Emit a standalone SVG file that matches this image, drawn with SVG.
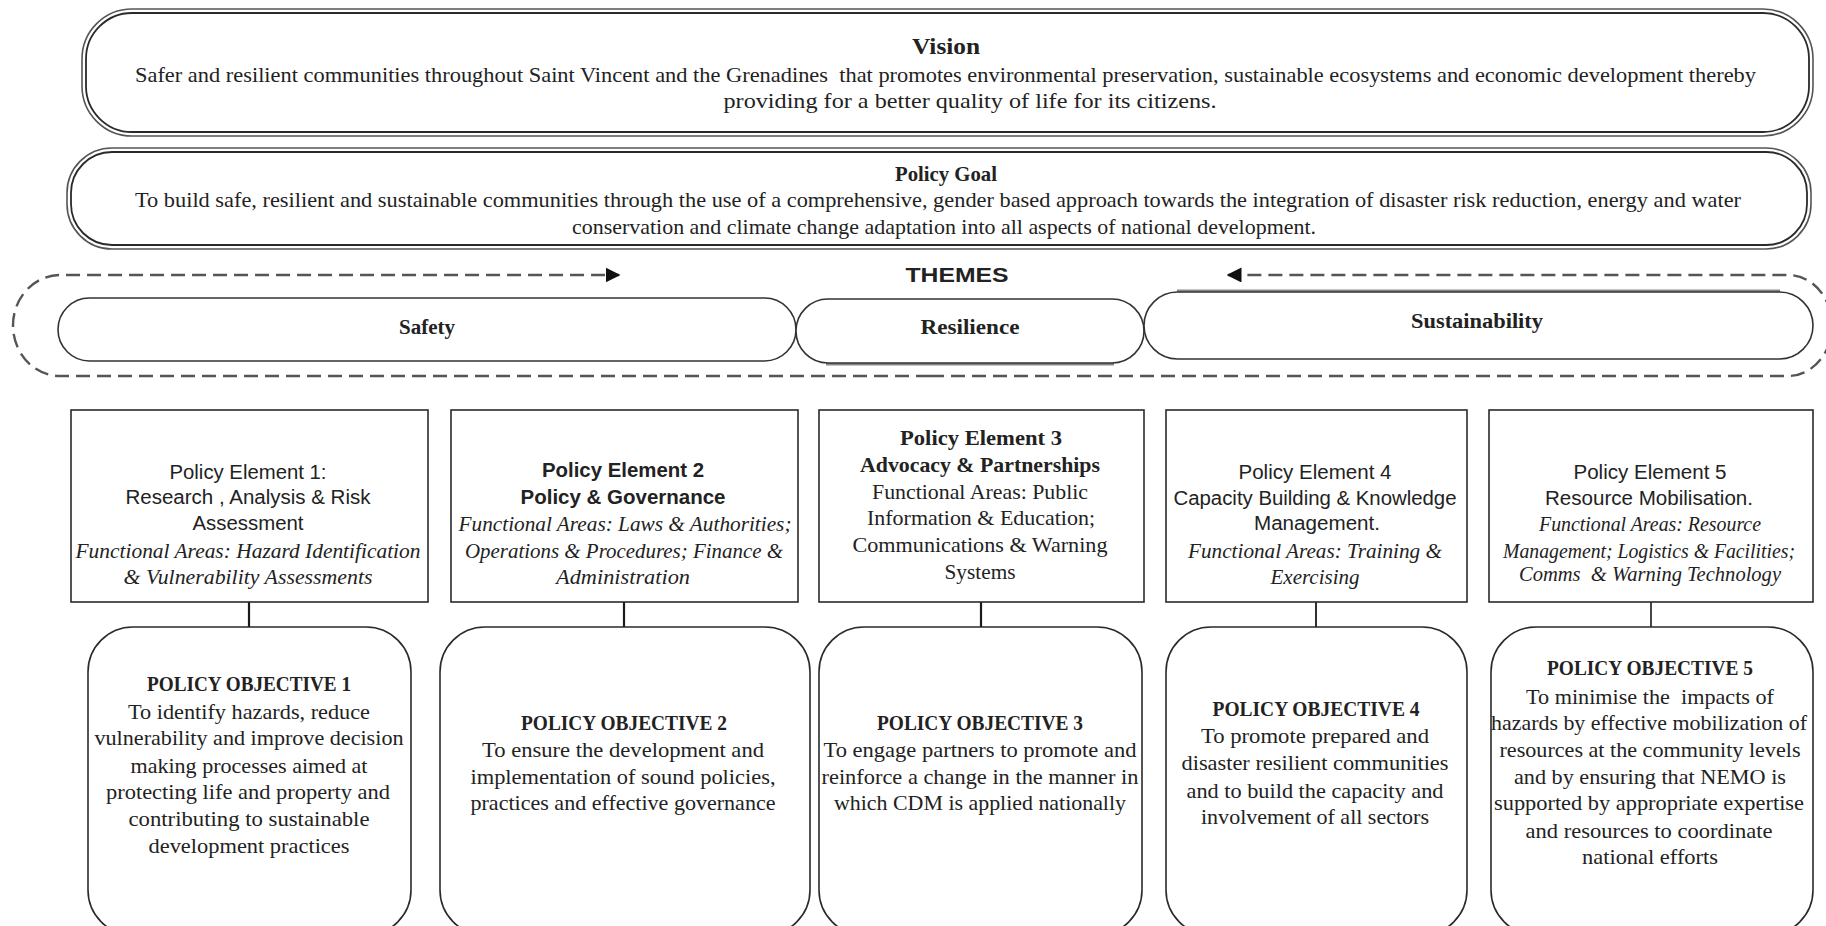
<svg xmlns="http://www.w3.org/2000/svg" width="1826" height="926" viewBox="0 0 1826 926">
<style>
.bg{fill:#fff}
.dbl-o{fill:#fff;stroke:#555;stroke-width:1.6}
.dbl-i{fill:none;stroke:#2a2a2a;stroke-width:1.8}
.pill{fill:#fff;stroke:#333;stroke-width:1.6}
.shadow{fill:none;stroke:#888;stroke-width:3}
.box{fill:#fff;stroke:#2a2a2a;stroke-width:1.6}
.conn{stroke:#1a1a1a;stroke-width:2.2;fill:none}
.dash{stroke:#555;stroke-width:2.4;fill:none;stroke-dasharray:14 7}
text{fill:#222;text-anchor:middle}
.serif{font-family:"Liberation Serif","Times New Roman",serif;font-size:22px}
.sb{font-family:"Liberation Serif","Times New Roman",serif;font-weight:bold}
.sans{font-family:"Liberation Sans",Arial,sans-serif;font-size:20px}
.sansb{font-family:"Liberation Sans",Arial,sans-serif;font-size:20px;font-weight:bold}
.it{font-family:"Liberation Serif","Times New Roman",serif;font-style:italic;font-size:21px}
.obj{font-family:"Liberation Serif","Times New Roman",serif;font-size:21px}
.objt{font-family:"Liberation Serif","Times New Roman",serif;font-size:21px;font-weight:bold}
.pre{white-space:pre}
</style>
<defs>
<marker id="arr" viewBox="0 0 10 10" refX="9" refY="5" markerWidth="15" markerHeight="15" markerUnits="userSpaceOnUse" orient="auto">
<path d="M0,0 L10,5 L0,10 z" fill="#111"/>
</marker>
</defs>
<rect class="bg" x="0" y="0" width="1826" height="926"/>

<g id="vision">
<rect class="dbl-o" x="82" y="9" width="1731" height="127" rx="50" ry="50"/>
<rect class="dbl-i" x="86" y="13" width="1723" height="119" rx="46" ry="46"/>
<text class="sb" x="946" y="54" font-size="23" textLength="68" lengthAdjust="spacingAndGlyphs">Vision</text>
<text class="serif pre" x="945.5" y="82" textLength="1621" lengthAdjust="spacingAndGlyphs">Safer and resilient communities throughout Saint Vincent and the Grenadines  that promotes environmental preservation, sustainable ecosystems and economic development thereby</text>
<text class="serif" x="970" y="108" textLength="493" lengthAdjust="spacingAndGlyphs">providing for a better quality of life for its citizens.</text>
</g>

<g id="policy-goal">
<rect class="dbl-o" x="67" y="148" width="1744" height="101" rx="45" ry="45"/>
<rect class="dbl-i" x="71" y="152" width="1736" height="93" rx="41" ry="41"/>
<text class="sb" x="946" y="181" font-size="22" textLength="102" lengthAdjust="spacingAndGlyphs">Policy Goal</text>
<text class="serif" x="938" y="207" textLength="1606" lengthAdjust="spacingAndGlyphs">To build safe, resilient and sustainable communities through the use of a comprehensive, gender based approach towards the integration of disaster risk reduction, energy and water</text>
<text class="serif" x="944" y="234" textLength="744" lengthAdjust="spacingAndGlyphs">conservation and climate change adaptation into all aspects of national development.</text>
</g>

<g id="connectors">
<path class="dash" d="M930,376 H60 A47,50.5 0 0 1 60,275 H619" marker-end="url(#arr)"/>
<path class="dash" d="M930,376 H1788 A44,50.5 0 0 0 1788,275 H1228" marker-end="url(#arr)"/>
<line class="conn" x1="249" y1="602" x2="249" y2="627"/>
<line class="conn" x1="624" y1="602" x2="624" y2="627"/>
<line class="conn" x1="981" y1="602" x2="981" y2="627"/>
<line class="conn" x1="1316" y1="602" x2="1316" y2="627" style="stroke-width:1.8"/>
<line class="conn" x1="1651" y1="602" x2="1651" y2="627" style="stroke-width:1.6"/>
</g>

<g id="themes">
<text class="sansb" x="957" y="282" font-size="25" textLength="103" lengthAdjust="spacingAndGlyphs">THEMES</text>
</g>

<g id="safety">
<rect class="pill" x="58" y="298" width="738" height="63" rx="31.5" ry="31.5"/>
<text class="sb" x="427" y="334" font-size="20" textLength="56" lengthAdjust="spacingAndGlyphs">Safety</text>
</g>
<g id="resilience">
<line class="shadow" x1="826" y1="364" x2="1114" y2="364"/>
<rect class="pill" x="796" y="299" width="348" height="64" rx="32" ry="32"/>
<text class="sb" x="970" y="334" font-size="20" textLength="99" lengthAdjust="spacingAndGlyphs">Resilience</text>
</g>
<g id="sustainability">
<line class="shadow" x1="1177" y1="291" x2="1780" y2="291"/>
<rect class="pill" x="1144" y="292" width="669" height="67" rx="33.5" ry="33.5"/>
<text class="sb" x="1477" y="328" font-size="20" textLength="132" lengthAdjust="spacingAndGlyphs">Sustainability</text>
</g>

<g id="element-1">
<rect class="box" x="71" y="410" width="357" height="192"/>
<text class="sans" x="248" y="479" textLength="157" lengthAdjust="spacingAndGlyphs">Policy Element 1:</text>
<text class="sans" x="248" y="504" textLength="245" lengthAdjust="spacingAndGlyphs">Research , Analysis &amp; Risk</text>
<text class="sans" x="248" y="530" textLength="111" lengthAdjust="spacingAndGlyphs">Assessment</text>
<text class="it" x="248" y="558" textLength="345" lengthAdjust="spacingAndGlyphs">Functional Areas: Hazard Identification</text>
<text class="it" x="248" y="584" textLength="249" lengthAdjust="spacingAndGlyphs">&amp; Vulnerability Assessments</text>
</g>

<g id="element-2">
<rect class="box" x="451" y="410" width="347" height="192"/>
<text class="sansb" x="623" y="477" textLength="162" lengthAdjust="spacingAndGlyphs">Policy Element 2</text>
<text class="sansb" x="623" y="504" textLength="205" lengthAdjust="spacingAndGlyphs">Policy &amp; Governance</text>
<text class="it" x="625" y="531" textLength="333" lengthAdjust="spacingAndGlyphs">Functional Areas: Laws &amp; Authorities;</text>
<text class="it" x="624" y="558" textLength="318" lengthAdjust="spacingAndGlyphs">Operations &amp; Procedures; Finance &amp;</text>
<text class="it" x="623" y="584" textLength="134" lengthAdjust="spacingAndGlyphs">Administration</text>
</g>

<g id="element-3">
<rect class="box" x="819" y="410" width="325" height="192"/>
<text class="sb" x="981" y="445" font-size="21" textLength="162" lengthAdjust="spacingAndGlyphs">Policy Element 3</text>
<text class="sb" x="980" y="472" font-size="21" textLength="240" lengthAdjust="spacingAndGlyphs">Advocacy &amp; Partnerships</text>
<text class="obj" x="980" y="499" textLength="216" lengthAdjust="spacingAndGlyphs">Functional Areas: Public</text>
<text class="obj" x="981" y="525" textLength="228" lengthAdjust="spacingAndGlyphs">Information &amp; Education;</text>
<text class="obj" x="980" y="552" textLength="255" lengthAdjust="spacingAndGlyphs">Communications &amp; Warning</text>
<text class="obj" x="980" y="579" textLength="71" lengthAdjust="spacingAndGlyphs">Systems</text>
</g>

<g id="element-4">
<rect class="box" x="1166" y="410" width="301" height="192"/>
<text class="sans" x="1315" y="479" textLength="153" lengthAdjust="spacingAndGlyphs">Policy Element 4</text>
<text class="sans" x="1315" y="505" textLength="283" lengthAdjust="spacingAndGlyphs">Capacity Building &amp; Knowledge</text>
<text class="sans" x="1317" y="530" textLength="126" lengthAdjust="spacingAndGlyphs">Management.</text>
<text class="it" x="1315" y="558" textLength="254" lengthAdjust="spacingAndGlyphs">Functional Areas: Training &amp;</text>
<text class="it" x="1315" y="584" textLength="89" lengthAdjust="spacingAndGlyphs">Exercising</text>
</g>

<g id="element-5">
<rect class="box" x="1489" y="410" width="324" height="192"/>
<text class="sans" x="1650" y="479" textLength="153" lengthAdjust="spacingAndGlyphs">Policy Element 5</text>
<text class="sans" x="1649" y="505" textLength="208" lengthAdjust="spacingAndGlyphs">Resource Mobilisation.</text>
<text class="it" x="1650" y="531" font-size="18" textLength="222" lengthAdjust="spacingAndGlyphs">Functional Areas: Resource</text>
<text class="it" x="1649" y="558" font-size="18" textLength="292" lengthAdjust="spacingAndGlyphs">Management; Logistics &amp; Facilities;</text>
<text class="it pre" x="1650" y="581" font-size="18" textLength="262" lengthAdjust="spacingAndGlyphs">Comms  &amp; Warning Technology</text>
</g>

<g id="objective-1">
<rect class="box" x="88" y="627" width="323" height="308" rx="45" ry="45"/>
<text class="objt" x="249" y="691" textLength="204" lengthAdjust="spacingAndGlyphs">POLICY OBJECTIVE 1</text>
<text class="obj" x="249" y="719" textLength="242" lengthAdjust="spacingAndGlyphs">To identify hazards, reduce</text>
<text class="obj" x="249" y="745" textLength="309" lengthAdjust="spacingAndGlyphs">vulnerability and improve decision</text>
<text class="obj" x="249" y="773" textLength="237" lengthAdjust="spacingAndGlyphs">making processes aimed at</text>
<text class="obj" x="248" y="799" textLength="284" lengthAdjust="spacingAndGlyphs">protecting life and property and</text>
<text class="obj" x="249" y="826" textLength="241" lengthAdjust="spacingAndGlyphs">contributing to sustainable</text>
<text class="obj" x="249" y="853" textLength="201" lengthAdjust="spacingAndGlyphs">development practices</text>
</g>

<g id="objective-2">
<rect class="box" x="440" y="627" width="370" height="308" rx="45" ry="45"/>
<text class="objt" x="624" y="730" textLength="206" lengthAdjust="spacingAndGlyphs">POLICY OBJECTIVE 2</text>
<text class="obj" x="623" y="757" textLength="282" lengthAdjust="spacingAndGlyphs">To ensure the development and</text>
<text class="obj" x="623" y="784" textLength="305" lengthAdjust="spacingAndGlyphs">implementation of sound policies,</text>
<text class="obj" x="623" y="810" textLength="305" lengthAdjust="spacingAndGlyphs">practices and effective governance</text>
</g>

<g id="objective-3">
<rect class="box" x="819" y="627" width="323" height="308" rx="45" ry="45"/>
<text class="objt" x="980" y="730" textLength="206" lengthAdjust="spacingAndGlyphs">POLICY OBJECTIVE 3</text>
<text class="obj" x="980" y="757" textLength="313" lengthAdjust="spacingAndGlyphs">To engage partners to promote and</text>
<text class="obj" x="980" y="784" textLength="317" lengthAdjust="spacingAndGlyphs">reinforce a change in the manner in</text>
<text class="obj" x="980" y="810" textLength="292" lengthAdjust="spacingAndGlyphs">which CDM is applied nationally</text>
</g>

<g id="objective-4">
<rect class="box" x="1166" y="627" width="301" height="308" rx="45" ry="45"/>
<text class="objt" x="1316" y="716" textLength="207" lengthAdjust="spacingAndGlyphs">POLICY OBJECTIVE 4</text>
<text class="obj" x="1315" y="743" textLength="228" lengthAdjust="spacingAndGlyphs">To promote prepared and</text>
<text class="obj" x="1315" y="770" textLength="267" lengthAdjust="spacingAndGlyphs">disaster resilient communities</text>
<text class="obj" x="1315" y="798" textLength="257" lengthAdjust="spacingAndGlyphs">and to build the capacity and</text>
<text class="obj" x="1315" y="824" textLength="228" lengthAdjust="spacingAndGlyphs">involvement of all sectors</text>
</g>

<g id="objective-5">
<rect class="box" x="1491" y="627" width="322" height="308" rx="45" ry="45"/>
<text class="objt" x="1650" y="675" textLength="206" lengthAdjust="spacingAndGlyphs">POLICY OBJECTIVE 5</text>
<text class="obj pre" x="1650" y="704" textLength="248" lengthAdjust="spacingAndGlyphs">To minimise the  impacts of</text>
<text class="obj" x="1649" y="730" textLength="316" lengthAdjust="spacingAndGlyphs">hazards by effective mobilization of</text>
<text class="obj" x="1650" y="757" textLength="301" lengthAdjust="spacingAndGlyphs">resources at the community levels</text>
<text class="obj" x="1650" y="784" textLength="272" lengthAdjust="spacingAndGlyphs">and by ensuring that NEMO is</text>
<text class="obj" x="1649" y="810" textLength="310" lengthAdjust="spacingAndGlyphs">supported by appropriate expertise</text>
<text class="obj" x="1649" y="838" textLength="247" lengthAdjust="spacingAndGlyphs">and resources to coordinate</text>
<text class="obj" x="1650" y="864" textLength="136" lengthAdjust="spacingAndGlyphs">national efforts</text>
</g>
</svg>
